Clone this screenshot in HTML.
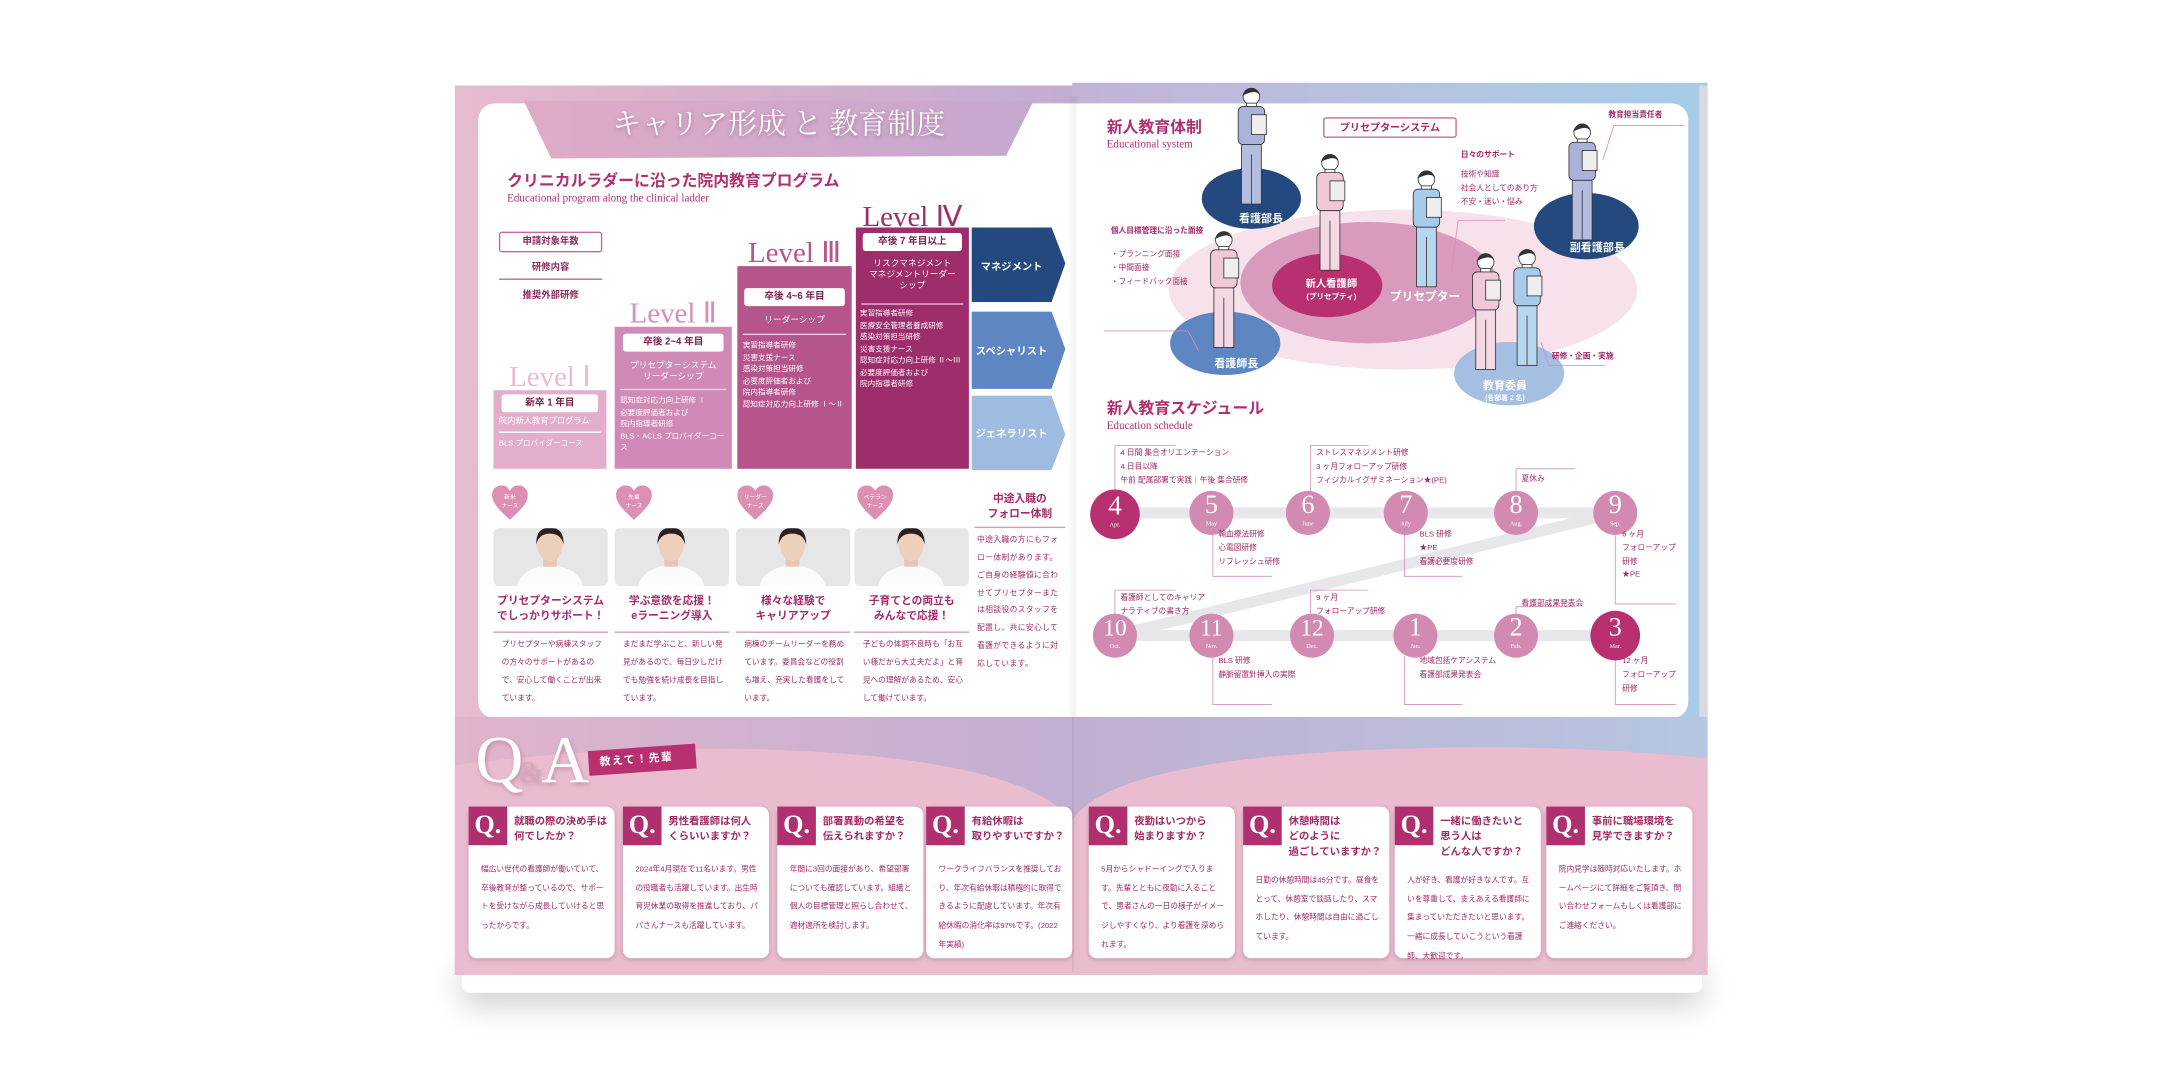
<!DOCTYPE html>
<html><head><meta charset="utf-8">
<style>
*{margin:0;padding:0;box-sizing:border-box}
html,body{width:2161px;height:1081px;overflow:hidden;background:#fff}
body{font-family:"Liberation Sans","Noto Sans CJK JP",sans-serif}
#w{position:absolute;left:0;top:0;width:1568px;height:784px;transform:scale(1.3782,1.3788);transform-origin:0 0}
.a{position:absolute}
.m{color:#b0306f}
.ser{font-family:"Liberation Serif","Noto Serif CJK SC",serif}
.lv{position:absolute;font-family:"Liberation Serif",serif;font-size:21px;line-height:1;text-align:center}
.lb{position:absolute;color:#fff;font-size:5.5px;line-height:1.55}
.yb{position:absolute;background:#fff;border-radius:2px;font-size:7px;text-align:center;line-height:13px;color:#7a2050;font-weight:bold}
.card{position:absolute;top:585px;width:106px;height:110px;background:#fff;border-radius:6px;box-shadow:0 1px 3px rgba(120,40,80,.25)}
.q{position:absolute;left:0;top:0;width:28px;height:28px;background:#b0306f;color:#fff;font-family:"Liberation Serif",serif;font-size:19px;font-weight:bold;text-align:center;line-height:28px}
.qt{position:absolute;left:33px;top:6px;font-size:7.5px;font-weight:bold;color:#a02a66;line-height:1.45}
.qb{position:absolute;left:9px;top:40px;right:7px;font-size:5.6px;color:#a02a66;line-height:2.45}
.ph{position:absolute;top:383px;height:42px;width:83px;background:#e6e6e6;border-radius:4px;overflow:hidden}
.ht{position:absolute;top:430px;width:83px;text-align:center;font-size:7.8px;font-weight:bold;color:#a52a68;line-height:1.45}
.hl{position:absolute;top:458px;width:83px;height:1px;background:#d79ab9}
.hb{position:absolute;top:462px;width:80px;font-size:5.6px;color:#a02a66;line-height:2.3;padding-left:4px}
.heart{position:absolute;top:352px;width:26px;height:26px}
.sl{position:absolute;font-size:5.6px;color:#a02a66;line-height:1.75}
.mo{position:absolute;border-radius:50%;color:#fff;text-align:center;font-family:"Liberation Serif",serif}
</style></head><body><div id="w">

<div class="a" style="left:335px;top:690px;width:900px;height:30px;box-shadow:0 10px 22px rgba(0,0,0,.18);border-radius:6px"></div>
<div class="a" style="left:330px;top:62px;width:449px;height:645px;background:linear-gradient(90deg,#e8bccf,#d9b0cc 40%,#c2acd2);"></div>
<div class="a" style="left:778px;top:60px;width:461px;height:647px;background:linear-gradient(90deg,#c2b2d6,#b6c3e0 50%,#a6cce6);"></div>
<div class="a" style="left:1233px;top:62px;width:6px;height:640px;background:#d9d9e2"></div>
<div class="a" style="left:347px;top:75px;width:432px;height:446px;background:#fff;border-radius:12px 0 0 12px"></div>
<div class="a" style="left:778px;top:75px;width:447px;height:446px;background:#fff;border-radius:0 12px 12px 0"></div>
<div class="a" style="left:775px;top:70px;width:8px;height:450px;background:linear-gradient(90deg,rgba(0,0,0,0),rgba(0,0,0,.05),rgba(0,0,0,0))"></div>
<svg class="a" style="left:330px;top:520px" width="909" height="187">
<defs><linearGradient id="wv" x1="0" x2="1"><stop offset="0" stop-color="#e0b4cb"/><stop offset=".5" stop-color="#c1afd2"/><stop offset="1" stop-color="#b6c6e0"/></linearGradient></defs>
<rect width="909" height="187" fill="url(#wv)"/>
<path d="M0 35 Q150 15 300 28 Q420 40 448 75 Q470 40 600 28 Q760 15 909 30 L909 187 L0 187Z" fill="#e9bdcf"/>
</svg>
<div class="a" style="left:778px;top:520px;width:1px;height:185px;background:rgba(150,100,130,.2)"></div>

<svg class="a" style="left:370px;top:73px" width="390" height="45"><defs><linearGradient id="tb" x1="0" x2="1"><stop offset="0" stop-color="#dfaac6"/><stop offset="1" stop-color="#c5a8cf"/></linearGradient></defs><path d="M10 0 L380 0 L360 40 L30 42 Z" fill="url(#tb)"/></svg>
<div class="a" style="left:440px;top:74px;width:250px;text-align:center;color:#fff;font-size:21px;font-family:'Liberation Serif','Noto Serif CJK SC',serif;text-shadow:0 1px 3px rgba(120,50,100,.4)">キャリア形成 と 教育制度</div>

<div class="a m" style="left:368px;top:123px;font-size:11.5px;font-weight:bold">クリニカルラダーに沿った院内教育プログラム</div>
<div class="a m ser" style="left:368px;top:139px;font-size:8px">Educational program along the clinical ladder</div>

<div class="a" style="left:362px;top:168px;width:75px;height:15px;border:1px solid #c46b98;border-radius:2px;font-size:6.8px;text-align:center;line-height:13px;color:#8a2a5a;font-weight:bold">申請対象年数</div>
<div class="a" style="left:362px;top:188px;width:75px;text-align:center;font-size:6.8px;color:#8a2a5a;font-weight:bold">研修内容</div>
<div class="a" style="left:362px;top:202px;width:75px;height:1px;background:#c46b98"></div>
<div class="a" style="left:362px;top:208px;width:75px;text-align:center;font-size:6.8px;color:#8a2a5a;font-weight:bold">推奨外部研修</div>

<div class="a" style="left:358px;top:283px;width:82px;height:57px;background:#e2aecb"></div>
<div class="lv" style="left:358px;top:263px;width:82px;color:#e9bcd4">Level Ⅰ</div>
<div class="yb" style="left:364px;top:286px;width:70px">新卒 1 年目</div>
<div class="lb" style="left:362px;top:302px;font-size:6px">院内新人教育プログラム</div>
<div class="a" style="left:362px;top:313px;width:74px;height:1px;background:#fff"></div>
<div class="lb" style="left:362px;top:318px">BLS プロバイダーコース</div>

<div class="a" style="left:446px;top:237px;width:85px;height:103px;background:#d08ab5"></div>
<div class="lv" style="left:446px;top:217px;width:85px;color:#d58fb9">Level Ⅱ</div>
<div class="yb" style="left:452px;top:242px;width:73px">卒後 2~4 年目</div>
<div class="lb" style="left:446px;top:262px;width:85px;text-align:center;font-size:6.3px;line-height:1.3">プリセプターシステム<br>リーダーシップ</div>
<div class="a" style="left:450px;top:282px;width:77px;height:1px;background:#f0d0e2"></div>
<div class="lb" style="left:450px;top:287px">認知症対応力向上研修 Ⅰ<br>必要度評価者および<br>院内指導者研修<br>BLS・ACLS プロバイダーコー<br>ス</div>

<div class="a" style="left:535px;top:193px;width:83px;height:147px;background:#b5558c"></div>
<div class="lv" style="left:535px;top:173px;width:83px;color:#b5558c">Level Ⅲ</div>
<div class="yb" style="left:540px;top:209px;width:73px">卒後 4~6 年目</div>
<div class="lb" style="left:535px;top:228px;width:83px;text-align:center;font-size:6.3px">リーダーシップ</div>
<div class="a" style="left:539px;top:242px;width:75px;height:1px;background:#f0d0e2"></div>
<div class="lb" style="left:539px;top:247px">実習指導者研修<br>災害支援ナース<br>感染対策担当研修<br>必要度評価者および<br>院内指導者研修<br>認知症対応力向上研修 Ⅰ～Ⅱ</div>

<div class="a" style="left:621px;top:165px;width:82px;height:175px;background:#9e2d6b"></div>
<div class="lv" style="left:621px;top:147px;width:82px;color:#9e2d6b">Level Ⅳ</div>
<div class="yb" style="left:626px;top:169px;width:72px">卒後 7 年目以上</div>
<div class="lb" style="left:621px;top:188px;width:82px;text-align:center;font-size:6.3px;line-height:1.3">リスクマネジメント<br>マネジメントリーダー<br>シップ</div>
<div class="a" style="left:625px;top:220px;width:74px;height:1px;background:#e6bcd4"></div>
<div class="lb" style="left:624px;top:224px">実習指導者研修<br>医療安全管理者養成研修<br>感染対策担当研修<br>災害支援ナース<br>認知症対応力向上研修 Ⅱ～Ⅲ<br>必要度評価者および<br>院内指導者研修</div>

<svg class="a" style="left:705px;top:165px" width="70" height="178">
<path d="M0 0 H58 L68 26 L58 54 H0Z" fill="#24497e"/>
<path d="M0 61 H58 L68 88 L58 117 H0Z" fill="#5d86c2"/>
<path d="M0 122 H58 L68 150 L58 176 H0Z" fill="#9fbbe2"/>
<text x="29" y="31" fill="#fff" font-size="7.5" font-weight="bold" text-anchor="middle">マネジメント</text>
<text x="29" y="92" fill="#fff" font-size="7.5" font-weight="bold" text-anchor="middle">スペシャリスト</text>
<text x="29" y="152" fill="#fff" font-size="7.5" font-weight="bold" text-anchor="middle">ジェネラリスト</text>
</svg>

<svg width="0" height="0" style="position:absolute"><defs><symbol id="hr" viewBox="0 0 26 26"><path d="M13 25 C4 17 0 12 0 7 C0 2 4 0 7 0 C10 0 12 2 13 4 C14 2 16 0 19 0 C22 0 26 2 26 7 C26 12 22 17 13 25Z" fill="#dd8fb3"/></symbol>
<symbol id="ps" viewBox="0 0 83 42"><ellipse cx="41" cy="44" rx="24" ry="17" fill="#fbfbfb"/><rect x="36" y="20" width="10" height="8" fill="#e8c6b0"/><ellipse cx="41" cy="13" rx="9" ry="11" fill="#ecd0bc"/><path d="M31 12 Q31 -1 41 0 Q51 -1 51 12 Q49 4 41 4 Q33 4 31 12Z" fill="#2a2020"/></symbol>
<g id="fg"><circle cx="0" cy="5" r="5" fill="#fff" stroke="#333" stroke-width=".5"/><path d="M-5 4 Q0 -4 5 4 Q3 0 -5 4Z" fill="#333"/><rect x="-3" y="9" width="6" height="3" fill="#fff"/></g></defs></svg>
<svg class="heart" style="left:357px"><use href="#hr"/></svg>
<svg class="heart" style="left:447px"><use href="#hr"/></svg>
<svg class="heart" style="left:535px"><use href="#hr"/></svg>
<svg class="heart" style="left:622px"><use href="#hr"/></svg>
<div class="a" style="left:357px;top:358px;width:26px;text-align:center;color:#fff;font-size:4.2px;line-height:1.4">新米<br>ナース</div>
<div class="a" style="left:447px;top:358px;width:26px;text-align:center;color:#fff;font-size:4.2px;line-height:1.4">先輩<br>ナース</div>
<div class="a" style="left:535px;top:358px;width:26px;text-align:center;color:#fff;font-size:4.2px;line-height:1.4">リーダー<br>ナース</div>
<div class="a" style="left:622px;top:358px;width:26px;text-align:center;color:#fff;font-size:4.2px;line-height:1.4">ベテラン<br>ナース</div>
<div class="ph" style="left:358px"><svg width="83" height="42" style="position:absolute;top:0"><use href="#ps"/></svg></div>
<div class="ph" style="left:446px"><svg width="83" height="42" style="position:absolute;top:0"><use href="#ps"/></svg></div>
<div class="ph" style="left:534px"><svg width="83" height="42" style="position:absolute;top:0"><use href="#ps"/></svg></div>
<div class="ph" style="left:620px"><svg width="83" height="42" style="position:absolute;top:0"><use href="#ps"/></svg></div>
<div class="ht" style="left:358px">プリセプターシステム<br>でしっかりサポート！</div>
<div class="ht" style="left:446px">学ぶ意欲を応援！<br>eラーニング導入</div>
<div class="ht" style="left:534px">様々な経験で<br>キャリアアップ</div>
<div class="ht" style="left:620px">子育てとの両立も<br>みんなで応援！</div>
<div class="hl" style="left:358px"></div><div class="hl" style="left:446px"></div><div class="hl" style="left:534px"></div><div class="hl" style="left:620px"></div>
<div class="hb" style="left:360px">プリセプターや病棟スタッフの方々のサポートがあるので、安心して働くことが出来ています。</div>
<div class="hb" style="left:448px">まだまだ学ぶこと、新しい発見があるので、毎日少しだけでも勉強を続け成長を目指しています。</div>
<div class="hb" style="left:536px">病棟のチームリーダーを務めています。委員会などの役割も増え、充実した看護をしています。</div>
<div class="hb" style="left:622px">子どもの体調不良時も「お互い様だから大丈夫だよ」と育児への理解があるため、安心して働けています。</div>
<div class="a" style="left:707px;top:356px;width:66px;text-align:center;font-size:7.8px;font-weight:bold;color:#a52a68;line-height:1.45">中途入職の<br>フォロー体制</div>
<div class="a" style="left:707px;top:382px;width:66px;height:1px;background:#d79ab9"></div>
<div class="a" style="left:709px;top:386px;width:64px;font-size:5.6px;color:#a02a66;line-height:2.3;letter-spacing:.3px">中途入職の方にもフォロー体制があります。ご自身の経験値に合わせてプリセプターまたは相談役のスタッフを配置し、共に安心して看護ができるように対応しています。</div>

<!-- RIGHT PAGE -->
<div class="a m" style="left:803px;top:84px;font-size:11.5px;font-weight:bold">新人教育体制</div>
<div class="a m ser" style="left:803px;top:100px;font-size:8px">Educational system</div>

<svg class="a" style="left:778px;top:60px" width="460" height="240">
<ellipse cx="240" cy="150" rx="170" ry="58" fill="#f7e1ea"/>
<ellipse cx="215" cy="145" rx="93" ry="44" fill="#d89abd"/>
<ellipse cx="185" cy="147" rx="40" ry="23" fill="#b8306f"/>
<ellipse cx="130" cy="84" rx="36" ry="22" fill="#24497e"/>
<ellipse cx="373" cy="104" rx="38" ry="24" fill="#24497e"/>
<ellipse cx="111" cy="189" rx="40" ry="23" fill="#5d86c2"/>
<ellipse cx="317" cy="211" rx="40" ry="23" fill="#a5bfe2"/>
<g stroke="#333" stroke-width=".5">
<g transform="translate(130,4) scale(1.2)"><use href="#fg"/><rect x="-8" y="11" width="16" height="23" rx="3" fill="#a9b3d9"/><rect x="-6" y="34" width="12" height="36" fill="#b4bde0"/><line x1="0" y1="40" x2="0" y2="70"/><rect x="0" y="16" width="9" height="12" fill="#eee"/></g>
<g transform="translate(370,30) scale(1.2)"><use href="#fg"/><rect x="-8" y="11" width="16" height="23" rx="3" fill="#a9b3d9"/><rect x="-6" y="34" width="12" height="36" fill="#b4bde0"/><line x1="0" y1="40" x2="0" y2="70"/><rect x="0" y="16" width="9" height="12" fill="#eee"/></g>
<g transform="translate(187,52) scale(1.2)"><use href="#fg"/><rect x="-8" y="11" width="16" height="23" rx="3" fill="#f0c8d8"/><rect x="-6" y="34" width="12" height="36" fill="#f4d8e4"/><line x1="0" y1="40" x2="0" y2="70"/><rect x="0" y="16" width="9" height="12" fill="#eee"/></g>
<g transform="translate(257,64) scale(1.2)"><use href="#fg"/><rect x="-8" y="11" width="16" height="23" rx="3" fill="#a6cbeb"/><rect x="-6" y="34" width="12" height="36" fill="#b8d6ef"/><line x1="0" y1="40" x2="0" y2="70"/><rect x="0" y="16" width="9" height="12" fill="#eee"/></g>
<g transform="translate(110,108) scale(1.2)"><use href="#fg"/><rect x="-8" y="11" width="16" height="23" rx="3" fill="#f0c8d8"/><rect x="-6" y="34" width="12" height="36" fill="#f4d8e4"/><line x1="0" y1="40" x2="0" y2="70"/><rect x="0" y="16" width="9" height="12" fill="#eee"/></g>
<g transform="translate(300,124) scale(1.2)"><use href="#fg"/><rect x="-8" y="11" width="16" height="23" rx="3" fill="#f0c8d8"/><rect x="-6" y="34" width="12" height="36" fill="#f4d8e4"/><line x1="0" y1="40" x2="0" y2="70"/><rect x="0" y="16" width="9" height="12" fill="#eee"/></g>
<g transform="translate(330,121) scale(1.2)"><use href="#fg"/><rect x="-8" y="11" width="16" height="23" rx="3" fill="#a6cbeb"/><rect x="-6" y="34" width="12" height="36" fill="#b8d6ef"/><line x1="0" y1="40" x2="0" y2="70"/><rect x="0" y="16" width="9" height="12" fill="#eee"/></g>
</g>
<g font-weight="bold" text-anchor="middle" fill="#fff">
<text x="137" y="101" font-size="8">看護部長</text>
<text x="381" y="122" font-size="8">副看護部長</text>
<text x="119" y="206" font-size="8">看護師長</text>
<text x="188" y="148" font-size="7.5">新人看護師</text>
<text x="188" y="157" font-size="5.5">(プリセプティ)</text>
<text x="256" y="158" font-size="8.5">プリセプター</text>
<text x="314" y="222" font-size="8">教育委員</text>
<text x="314" y="230" font-size="5">(各部署 2 名)</text>
</g>
<g stroke="#d58fb4" stroke-width=".6" fill="none">
<polyline points="23,180 84,180 92,195"/>
<polyline points="275,137 280,100 314,100"/>
<polyline points="385,56 393,31 444,31"/>
<polyline points="340,188 346,205 387,205"/>
</g>
</svg>
<div class="a" style="left:960px;top:85px;width:97px;height:15px;border:1px solid #c46b98;border-radius:2px;font-size:7.3px;text-align:center;line-height:13px;color:#a52a68;font-weight:bold;background:#fff">プリセプターシステム</div>
<div class="sl" style="left:806px;top:164px;font-weight:bold">個人目標管理に沿った面接</div>
<div class="sl" style="left:806px;top:181px">・プランニング面接<br>・中間面接<br>・フィードバック面接</div>
<div class="sl" style="left:1060px;top:109px;font-weight:bold">日々のサポート</div>
<div class="sl" style="left:1060px;top:123px">技術や知識<br>社会人としてのあり方<br>不安・迷い・悩み</div>
<div class="sl" style="left:1167px;top:80px;font-weight:bold">教育担当責任者</div>
<div class="sl" style="left:1126px;top:255px;font-weight:bold">研修・企画・実施</div>

<div class="a m" style="left:803px;top:288px;font-size:11.5px;font-weight:bold">新人教育スケジュール</div>
<div class="a m ser" style="left:803px;top:304px;font-size:8px">Education schedule</div>

<svg class="a" style="left:778px;top:315px" width="450" height="205">
<g stroke="#e7e7e9" stroke-width="8" stroke-linecap="round">
<line x1="31" y1="57" x2="394" y2="57"/>
<line x1="31" y1="146" x2="394" y2="146"/>
<line x1="394" y1="57" x2="31" y2="146"/>
</g>
<g stroke="#d58fb4" stroke-width=".6" fill="none">
<polyline points="31,42 31,8 75,8"/>
<polyline points="173,42 173,8 215,8"/>
<polyline points="322,42 322,25 365,25"/>
<polyline points="102,72 102,103 145,103"/>
<polyline points="241,72 241,103 283,103"/>
<polyline points="394,72 394,123 438,123"/>
<polyline points="31,131 31,113 75,113"/>
<polyline points="173,131 173,113 215,113"/>
<polyline points="322,131 322,125 365,125"/>
<polyline points="102,161 102,196 145,196"/>
<polyline points="241,161 241,196 283,196"/>
<polyline points="394,161 394,196 438,196"/>
</g>
</svg>
<div class="mo" style="left:791px;top:355px;width:36px;height:36px;background:#b8306f"></div>
<div class="a" style="left:791px;top:356px;width:36px;text-align:center;color:#fff;font-family:'Liberation Serif',serif;font-size:20px;line-height:22px">4</div>
<div class="a" style="left:791px;top:378px;width:36px;text-align:center;color:#fff;font-family:'Liberation Serif',serif;font-size:4.5px">Apr.</div>

<div id="mos"></div>
<script>
var mo=[[879,372,"5","May",0],[949,372,"6","June",0],[1020,372,"7","July",0],[1100,372,"8","Aug.",0],[1172,372,"9","Sep.",0],
[809,461,"10","Oct.",0],[879,461,"11","Nov.",0],[952,461,"12","Dec.",0],[1027,461,"1","Jan.",0],[1100,461,"2","Feb.",0],[1172,461,"3","Mar.",1]];
var h="";mo.forEach(function(m){var r=m[4]?18:16;var c=m[4]?"#b8306f":"#d289b2";
h+='<div class="mo" style="left:'+(m[0]-r)+'px;top:'+(m[1]-r)+'px;width:'+2*r+'px;height:'+2*r+'px;background:'+c+'"></div>';
h+='<div class="a" style="left:'+(m[0]-20)+'px;top:'+(m[1]-16)+'px;width:40px;text-align:center;color:#fff;font-family:Liberation Serif,serif;font-size:'+(m[2].length>1?17:19)+'px;line-height:22px">'+m[2]+'</div>';
h+='<div class="a" style="left:'+(m[0]-20)+'px;top:'+(m[1]+5)+'px;width:40px;text-align:center;color:#fff;font-family:Liberation Serif,serif;font-size:4.5px">'+m[3]+'</div>';});
document.getElementById("mos").innerHTML=h;
</script>
<div class="sl" style="left:813px;top:325px">4 日間 集合オリエンテーション<br>4 日目以降<br>午前 配属部署で実践｜午後 集合研修</div>
<div class="sl" style="left:955px;top:325px">ストレスマネジメント研修<br>3 ヶ月フォローアップ研修<br>フィジカルイグザミネーション★(PE)</div>
<div class="sl" style="left:1104px;top:344px">夏休み</div>
<div class="sl" style="left:884px;top:384px">輸血療法研修<br>心電図研修<br>リフレッシュ研修</div>
<div class="sl" style="left:1030px;top:384px">BLS 研修<br>★PE<br>看護必要度研修</div>
<div class="sl" style="left:1177px;top:384px">6 ヶ月<br>フォローアップ<br>研修<br>★PE</div>
<div class="sl" style="left:813px;top:430px">看護師としてのキャリア<br>ナラティブの書き方</div>
<div class="sl" style="left:955px;top:430px">9 ヶ月<br>フォローアップ研修</div>
<div class="sl" style="left:1104px;top:434px">看護部成果発表会</div>
<div class="sl" style="left:884px;top:476px">BLS 研修<br>静脈留置針挿入の実際</div>
<div class="sl" style="left:1030px;top:476px">地域包括ケアシステム<br>看護部成果発表会</div>
<div class="sl" style="left:1177px;top:476px">12 ヶ月<br>フォローアップ<br>研修</div>

<!-- Q&A -->
<div class="a" style="left:345px;top:528px;font-family:'Liberation Serif',serif;font-size:48px;color:#fff;line-height:1;text-shadow:1px 2px 3px rgba(140,60,100,.35);letter-spacing:-3px;white-space:nowrap">Q<span style="font-size:22px;color:#d8a6c0;letter-spacing:-1px">&amp;</span>A</div>
<div class="a" style="left:427px;top:542px;width:78px;height:18px;background:#b8306f;transform:rotate(-4deg);color:#fff;font-size:8px;font-weight:bold;line-height:18px;padding-left:8px;letter-spacing:1px">教えて！先輩</div>

<div class="card" style="left:340px"><div class="q">Q.</div><div class="qt">就職の際の決め手は<br>何でしたか？</div><div class="qb">幅広い世代の看護師が働いていて、卒後教育が整っているので、サポートを受けながら成長していけると思ったからです。</div></div>
<div class="card" style="left:452px"><div class="q">Q.</div><div class="qt">男性看護師は何人<br>くらいいますか？</div><div class="qb">2024年4月現在で11名います。男性の役職者も活躍しています。出生時育児休業の取得を推進しており、パパさんナースも活躍しています。</div></div>
<div class="card" style="left:564px"><div class="q">Q.</div><div class="qt">部署異動の希望を<br>伝えられますか？</div><div class="qb">年間に3回の面接があり、希望部署についても確認しています。組織と個人の目標管理と照らし合わせて、適材適所を検討します。</div></div>
<div class="card" style="left:672px"><div class="q">Q.</div><div class="qt">有給休暇は<br>取りやすいですか？</div><div class="qb">ワークライフバランスを推奨しており、年次有給休暇は積極的に取得できるように配慮しています。年次有給休暇の消化率は97%です。(2022年実績)</div></div>
<div class="card" style="left:790px"><div class="q">Q.</div><div class="qt">夜勤はいつから<br>始まりますか？</div><div class="qb">5月からシャドーイングで入ります。先輩とともに夜勤に入ることで、患者さんの一日の様子がイメージしやすくなり、より看護を深められます。</div></div>
<div class="card" style="left:902px"><div class="q">Q.</div><div class="qt">休憩時間は<br>どのように<br>過ごしていますか？</div><div class="qb" style="top:48px">日勤の休憩時間は45分です。昼食をとって、休憩室で談話したり、スマホしたり、休憩時間は自由に過ごしています。</div></div>
<div class="card" style="left:1012px"><div class="q">Q.</div><div class="qt">一緒に働きたいと<br>思う人は<br>どんな人ですか？</div><div class="qb" style="top:48px">人が好き、看護が好きな人です。互いを尊重して、支えあえる看護師に集まっていただきたいと思います。一緒に成長していこうという看護師、大歓迎です。</div></div>
<div class="card" style="left:1122px"><div class="q">Q.</div><div class="qt">事前に職場環境を<br>見学できますか？</div><div class="qb">院内見学は随時対応いたします。ホームページにて詳細をご覧頂き、問い合わせフォームもしくは看護部にご連絡ください。</div></div>

</div></body></html>
